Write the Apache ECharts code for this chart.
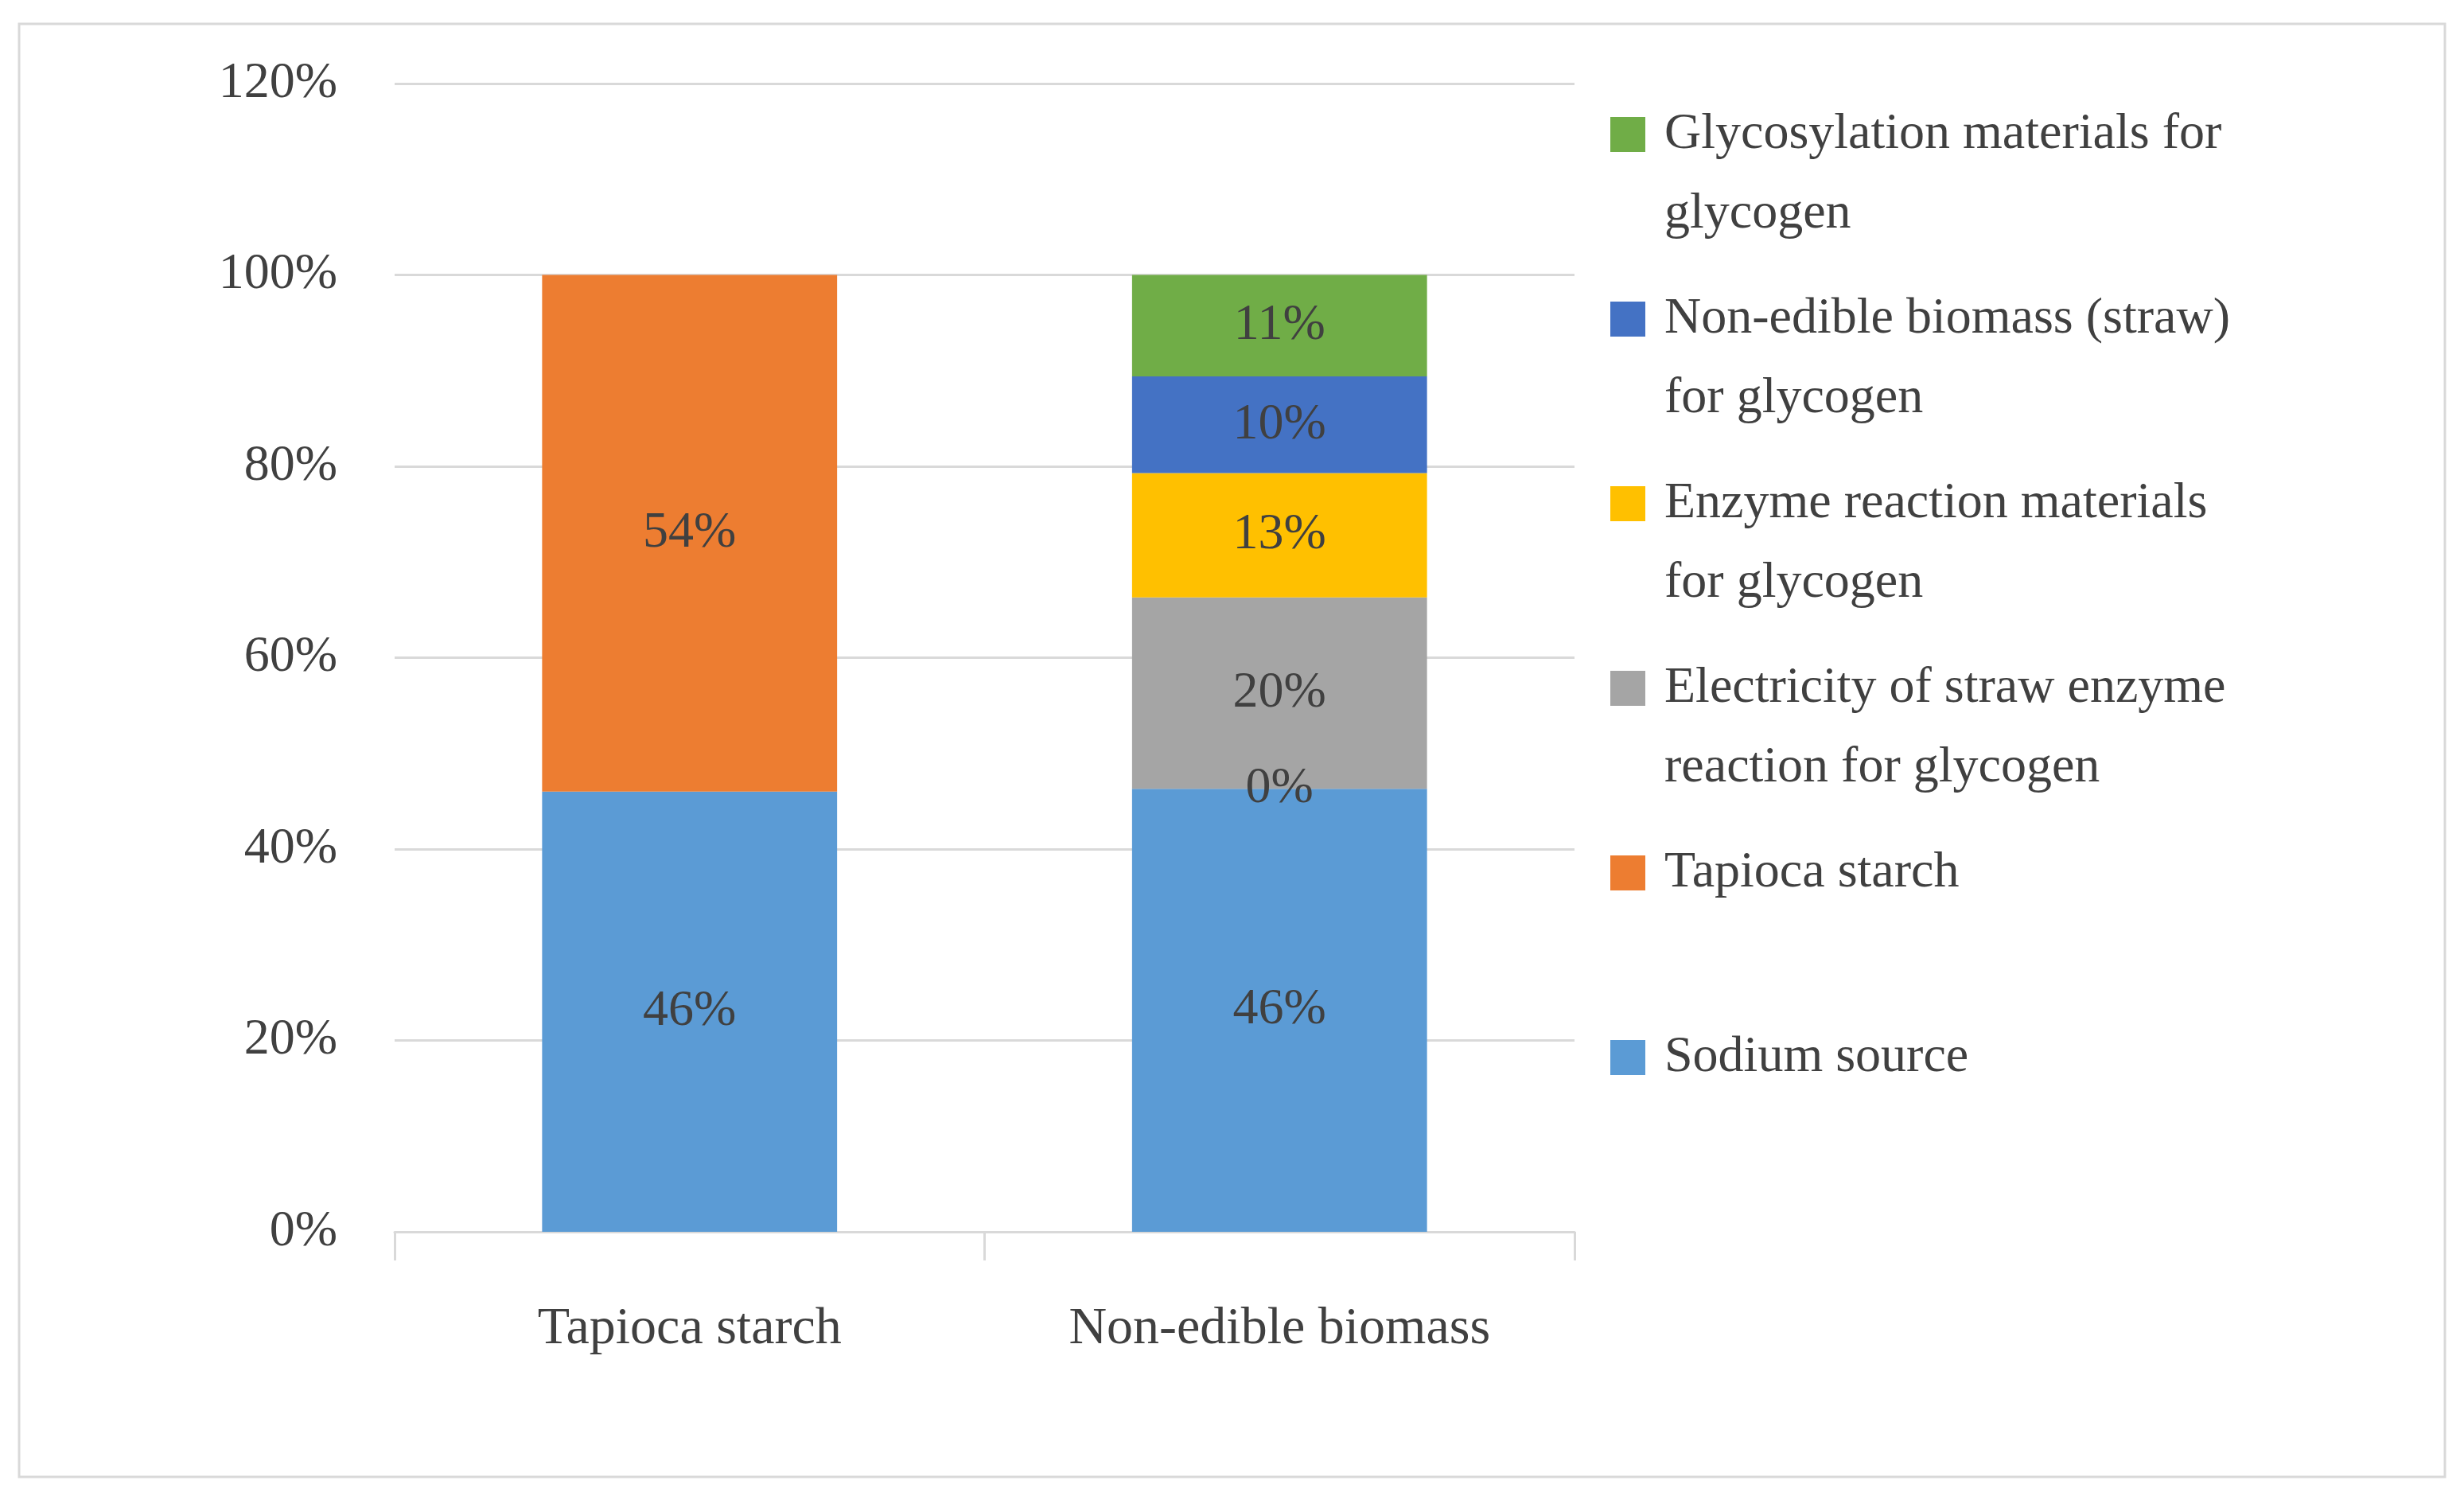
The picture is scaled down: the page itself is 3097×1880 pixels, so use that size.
<!DOCTYPE html>
<html><head><meta charset="utf-8">
<script src="https://cdn.jsdelivr.net/npm/echarts@6/dist/echarts.min.js"></script>
<style>html,body{margin:0;background:#fff}#c{width:3097px;height:1880px}</style>
</head><body><div id="c"></div>
<script>
const categories = ['Tapioca starch', 'Non-edible biomass'];
const seriesNames = ['Sodium source', 'Tapioca starch', 'Electricity of straw enzyme reaction for glycogen', 'Enzyme reaction materials for glycogen', 'Non-edible biomass (straw) for glycogen', 'Glycosylation materials for glycogen'];
const legendLines = [['Sodium source'], ['Tapioca starch'], ['Electricity of straw enzyme', 'reaction for glycogen'], ['Enzyme reaction materials', 'for glycogen'], ['Non-edible biomass (straw)', 'for glycogen'], ['Glycosylation materials for', 'glycogen']];
const sodium = [46, 46.3];
const tapioca = [54, 0];
const electricity = [null, 20];
const enzyme = [null, 13];
const straw = [null, 10.1];
const glyco = [null, 10.6];
const yTicks = [0, 20, 40, 60, 80, 100, 120];
const colors = ['#5b9bd5', '#ed7d31', '#a5a5a5', '#ffc000', '#4472c4', '#70ad47'];
const values = [sodium, tapioca, electricity, enzyme, straw, glyco];
const font = 'Liberation Serif, DejaVu Serif, serif';
const series = values.map((v, i) => ({
  name: seriesNames[i], type: 'bar', stack: 's', data: v, barWidth: '50%',
  itemStyle: {color: colors[i]},
  label: {show: true, position: 'inside', color: '#404040', fontSize: 64, fontFamily: font,
    formatter: p => p.value == null ? '' : Math.round(p.value) + '%'}
}));
const graphics = [{type: 'rect', shape: {x: 24, y: 30, width: 3049, height: 1826}, style: {fill: 'none', stroke: '#d9d9d9', lineWidth: 3}}];
for (let k = 0; k < 6; k++) {
  const i = 5 - k;
  const cy = 169 + 232 * k;
  graphics.push({type: 'rect', shape: {x: 2024, y: cy - 22, width: 44, height: 44}, style: {fill: colors[i]}});
  legendLines[i].forEach((t, j) => graphics.push({type: 'text', x: 2092, y: cy + 100 * j,
    style: {text: t, fill: '#404040', font: '64px ' + font, verticalAlign: 'middle'}}));
}
const chart = echarts.init(document.getElementById('c'));
chart.setOption({
  animation: false,
  grid: {left: 496, right: 1118, top: 105, bottom: 332},
  xAxis: {type: 'category', data: categories,
    axisLine: {lineStyle: {color: '#d9d9d9', width: 3}},
    axisTick: {show: true, length: 36, lineStyle: {color: '#d9d9d9', width: 3}},
    axisLabel: {color: '#404040', fontSize: 66, fontFamily: font, margin: 90}},
  yAxis: {type: 'value', min: yTicks[0], max: yTicks[yTicks.length - 1], interval: 20,
    axisLine: {show: false}, axisTick: {show: false},
    splitLine: {lineStyle: {color: '#d9d9d9', width: 3}},
    axisLabel: {color: '#404040', fontSize: 64, fontFamily: font, margin: 72, formatter: '{value}%'}},
  series: series,
  graphic: graphics
});
</script></body></html>
